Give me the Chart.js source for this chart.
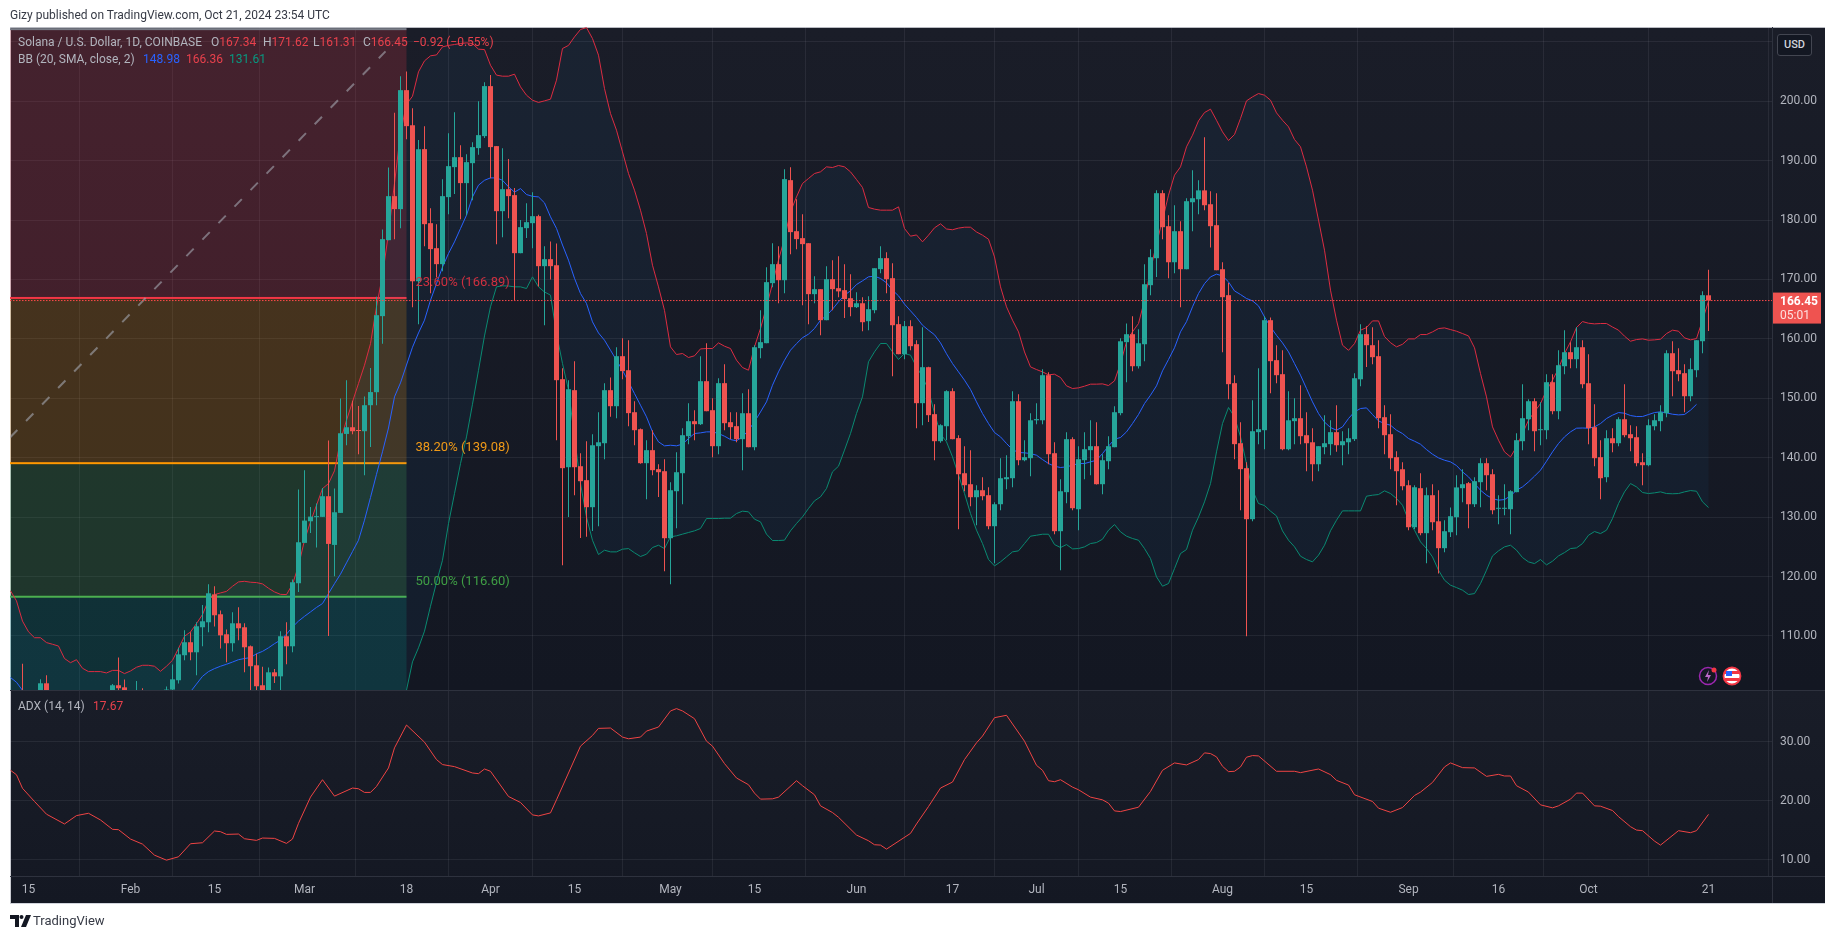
<!DOCTYPE html>
<html><head><meta charset="utf-8"><title>SOL/USD</title>
<script src="https://cdn.jsdelivr.net/npm/chart.js@4/dist/chart.umd.min.js"></script>
<style>
html,body{margin:0;padding:0;background:#fff;width:1835px;height:939px;overflow:hidden;font-family:Roboto,sans-serif}
#panel{position:absolute;left:10px;top:27px;width:1815px;height:877px;box-sizing:border-box;
 border-left:1px solid #c9cbd1;border-top:1px solid #b9bbc2;border-bottom:1px solid #d1d4dc;
 background:linear-gradient(#1a1d28 0,#131722 662px,#191d28 662px,#141823 100%)}
canvas{position:absolute;left:0;top:0}
.t{position:absolute;font-size:12px;line-height:14px;white-space:nowrap;color:#b2b5be}
.r{color:#e8414c}.b{color:#2962ff}.g{color:#089981}
#usd{position:absolute;left:1777px;top:34px;width:35px;height:22px;box-sizing:border-box;border:1px solid #434651;border-radius:3px;
 background:#131722;color:#d1d4dc;font-size:11px;font-weight:500;line-height:20px;text-align:center}
svg{position:absolute}
</style></head><body>
<div id="panel"></div>
<canvas id="c" width="1835" height="939"></canvas>
<div class="t" style="left:10px;top:8px;color:#363a45">Gizy published on TradingView.com, Oct 21, 2024 23:54 UTC</div>
<div class="t" style="left:18px;top:35px">Solana / U.S. Dollar, 1D, COINBASE</div>
<div class="t" style="left:211px;top:35px">O<span class="r">167.34</span></div>
<div class="t" style="left:263px;top:35px">H<span class="r">171.62</span></div>
<div class="t" style="left:313px;top:35px">L<span class="r">161.31</span></div>
<div class="t" style="left:363px;top:35px">C<span class="r">166.45</span></div>
<div class="t r" style="left:413px;top:35px">−0.92 (−0.55%)</div>
<div class="t" style="left:18px;top:52px">BB (20, SMA, close, 2)</div>
<div class="t b" style="left:143px;top:52px">148.98</div>
<div class="t r" style="left:186px;top:52px">166.36</div>
<div class="t g" style="left:229px;top:52px">131.61</div>
<div class="t" style="left:18px;top:699px">ADX (14, 14)</div>
<div class="t r" style="left:93px;top:699px">17.67</div>
<div id="usd">USD</div>
<svg style="left:1698px;top:666px" width="46" height="20" viewBox="0 0 46 20">
 <circle cx="10" cy="10" r="8.5" fill="#131722" stroke="#9c27b0" stroke-width="1.5"/>
 <path d="M11 4 7 11h3l-1 5 4-7h-3z" fill="#ba68c8"/><circle cx="16" cy="4" r="2.5" fill="#f23645"/>
 <circle cx="34" cy="10" r="8.5" fill="#fff" stroke="#f23645" stroke-width="1.8"/>
 <path d="M27 5h14v3H27zM27 12h14v3H27z" fill="#f23645"/><path d="M28 5h6v5h-6z" fill="#2962ff"/>
</svg>
<svg style="left:10px;top:914px" width="22" height="14" viewBox="0 0 22 14">
 <path d="M0 1h9v12H5V5H0z" fill="#131722"/><circle cx="11.5" cy="3" r="2" fill="#131722"/><path d="M16 1h5l-5 12h-5z" fill="#131722"/>
</svg>
<div class="t" style="left:33px;top:914px;font-size:13px;color:#363a45">TradingView</div>
<script>
// Day numbers count from 15 Jan 2024 = 0. Candles start at day -3, last one is 21 Oct 2024 = 280.
const firstDay = -3;
const tickDays = [0,17,31,46,63,77,91,107,121,138,154,168,182,199,213,230,245,260,280];
const tickLabels = ['15','Feb','15','Mar','18','Apr','15','May','15','Jun','17','Jul','15','Aug','15','Sep','16','Oct','21'];
const priceTicks = [110,120,130,140,150,160,170,180,190,200,210];
const adxTicks = [10,20,30];

const opens = [
99.5,97.5,99.5,96,97.5,99.5,102.03,98.5,97,96,
95,94.5,96,95.5,96.5,98,97,99.5,101.7,101.35,
99,99.5,100.5,99,99.8,100.2,100,100.97,102.54,106.75,
108.94,107.25,111.46,112.3,117,113.65,110.28,108.77,112.13,111.46,
108.26,105.06,101.7,100,103.88,103.2,109.95,108.26,118.87,125.66,
129.3,130,130.04,133.52,125.32,130.71,144,145.13,144.6,144.46,
148.84,151.03,163.83,176.62,184.03,181.84,201.87,195.98,169.72,191.94,
179.48,175.27,172.58,183.86,188.91,190.59,186.22,189.58,192.11,194.13,
202.55,192.45,181.5,185.2,184.2,174.43,178.64,179.48,180.66,172.24,
173.42,172.4,153.22,138.4,151.37,138.57,136.22,131.67,141.94,142.44,
151.37,148.67,157.09,154.73,147.66,144.8,139.08,141.27,138.07,137.73,
126.45,134.36,137.39,143.62,146.15,145.64,152.88,148,141.94,152.55,
145.98,145.31,143.12,147.49,141.77,158.44,159.28,169.38,172.58,169.88,
186.72,178.13,176.96,176.11,167.53,168.37,163.15,170.05,168.54,168.2,
166.85,165.34,166,162.98,164.83,171.74,173.59,170.22,162.48,157.43,
162.14,159.11,149.18,155.24,147.33,142.78,145.3,151.2,143.3,137.39,
135.54,133.35,134.53,133.69,128.47,132.17,136.38,136.55,149.51,139.58,
139.92,146.3,146.3,153.89,140.76,127.63,134.2,143.12,131.33,139.58,
141.27,141.94,135.54,139.41,141.77,147.5,159.45,160.79,155.4,159.1,
169.04,173.58,184.53,178.97,172.9,178.13,171.73,183,183.5,185,
182.67,179.14,171.73,167.36,152.55,142.44,138.24,129.65,144.3,144.63,
163.15,156.42,154.06,141.43,146.15,146.65,143.79,142.6,138.9,141.77,
142.28,144.3,142.1,142.6,143.12,153.2,160.79,158.94,157.09,146.82,
143.96,140.09,138.06,135.37,128.3,134.87,127.3,133.69,129.3,124.77,
127.46,129.98,134.87,135.71,132.17,135.88,139.08,137.22,131.4,131.4,
131.33,134.2,142.78,146.48,149.51,144.63,144.63,152.71,147.83,155.4,
157.76,156.58,158.6,152.54,145.14,140.09,136.72,143.28,142.44,146.48,
143.96,143.45,139.24,138.74,145.3,146.15,147.49,157.59,154.73,154.23,
150.35,154.73,159.61,167.34];
const highs = [
100.4,99.8,105.3,99,100,102.7,103.4,100,99,98,
97,97,98,98,99,100,99.8,101.9,106.35,102.65,
100.5,102.4,101.2,100.5,100.6,100.7,101.5,105.2,108,110.96,
110.6,112.3,115.2,118.7,118.36,114.3,111.1,113.99,114.83,112.13,
108.4,107,104.8,104.67,104.45,110.79,112.3,119.5,134.64,137.9,
131.7,132.28,134.9,142.9,134.8,149.96,153.05,149.57,148.7,150.3,
155.1,167.08,178.42,188.85,198.06,204.23,205,198.84,193.46,195.81,
182,179.31,186.89,194.63,198.17,192.61,191.1,193.12,200.02,203.22,
204.4,192.45,192.1,190.26,185.4,180,182.85,184.7,180.9,175.61,
176.4,176.06,155.07,153.05,156.25,140.76,142.78,143.96,147.66,152.55,
153.5,158.6,160.12,159.78,149.5,144.9,142.95,144.63,138.9,139.75,
135.88,140.93,144.97,149.18,148,157.09,159.28,150,153.39,155.74,
147.66,147.66,150.86,151.53,158.94,164.83,172.07,176.1,175.6,188.57,
188.9,183.52,181,176.11,170.56,168.37,172.24,173.25,173.9,172.58,
170.9,167.86,167.02,167.19,171.9,175.6,174.6,172.75,163.82,163,
163.15,159.78,161.97,155.3,149,145.64,151.37,151.7,143.8,141.94,
141.27,135.37,136.72,135.04,132.5,139.92,140.42,151.2,150.7,142.95,
147.5,149.18,154.9,154.4,142.6,136.38,144.3,143.45,141.94,144.3,
146.3,145.98,140.59,143.62,148.67,160.12,162.6,163.82,161.63,172.57,
175.1,185.03,185,180.8,182.5,179.8,183.68,188.4,186.7,193.95,
184.86,184.53,172.9,169.4,153.9,145.98,139.24,149.68,155.07,163.8,
163.6,158.94,158.1,151.2,150,152.2,147.66,144.97,141.94,147.16,
146.3,148.84,144.46,144.97,154.2,162.47,162.14,161.97,159.78,148.84,
147.32,141.1,139.24,136.2,135.37,137.39,135,135.54,134.53,129.48,
131.6,137.05,138.06,135.9,136.72,139.92,139.92,138.06,133.69,135.54,
134.53,144.13,152.37,149.85,150,149.34,154.06,154.06,158.1,161.47,
159.45,161.97,159.78,157.42,149,142.95,144.63,144.97,146.82,152.37,
145.47,145.3,140.76,146.48,147.32,148.84,158.1,159.6,158.43,155.74,
156.75,159.78,168.03,171.62];
const lows = [
96.5,95.5,94,94,96,97.5,97,96,95,94,
93,93.5,94.5,94,95,96.5,96,98.5,98.5,98,
97.5,98.5,98,97.5,98,98.5,99,100,102,105.9,
105.9,103.4,108.26,110.6,111.6,107.9,105.57,107.4,109.27,103.88,
100.5,100.5,98,99.5,102.09,100.5,105.25,107.25,117.4,125.66,
127.34,124.9,130.04,110,120.05,130.71,142.1,143.95,140.6,137.05,
141.8,148.84,159.2,176.62,176.79,178.64,193.6,165.34,162.48,175.61,
167.7,170.39,171.4,181,184.37,180.16,180.83,183.35,191,193.8,
187.06,175.95,177.1,180.3,166.5,174.43,177,175.27,168.8,162.3,
170,142.95,121.9,130,133.7,126.5,126.68,127.68,128.47,139.75,
146.88,146.65,153.2,145.3,142.1,139,133,137.06,133.4,120.9,
118.7,128.13,132.17,142.28,142.95,145.5,147.83,140.09,140.59,144.63,
143.12,142.61,137.9,141.77,141.27,156.75,159.28,168.7,166,167.7,
174.26,175.1,165.68,162.48,166,160.63,163.15,164.83,167,163.5,
163.8,165.2,161.3,161.47,164.33,171.06,167.7,153.72,157.43,156.58,
158.1,144.97,145.47,146,139.58,142.5,142.95,143.1,127.96,134.36,
131.84,128.64,132.85,127.96,122.24,131.16,134.7,135.04,138.74,139.41,
136.9,145.64,145.64,138.9,127.13,121.06,132.34,131.16,127.8,136.38,
137.06,135.5,133.86,138.07,141.77,147.16,152.7,154.56,155,156.25,
167.35,170.4,176.78,170.2,171.06,165.33,171.73,178.13,181,181.66,
175.4,171.56,157.76,149.85,139.75,131.16,109.95,129.3,142.28,141.43,
150.86,152.54,141.27,141.27,142.28,142.28,137.73,136.05,137.73,140.59,
140.42,141,138.74,140.6,142.83,152.04,155.29,155.74,144.97,140.6,
138.06,132,134.53,127.8,128,126.95,122.24,127.8,120.5,124.09,
126.67,126.95,132.5,128.13,131.72,131.67,134.53,130.49,128.8,130.32,
127.12,134.2,141.26,144.63,141.1,142.1,143.1,147.32,146.48,154.06,
155.07,155.07,151.7,142.27,138.57,133,135.88,140.93,141.94,143.45,
141.1,138.57,135.37,138.57,144.63,144.46,146.82,150.35,152.88,147.66,
149.51,153.55,157.59,161.31];
const closes = [
97.5,96.5,96,97.5,99.5,102.03,98.5,97,96,95,
94.5,96,95.5,96.5,98,97,99.5,101.7,101.2,99,
99.5,100.5,99,99.8,100.2,100,100.97,102.7,106.9,108.94,
107.25,111.63,112.47,117.18,113.48,110.1,108.77,112.13,111.29,108.09,
104.9,101.53,100,103.88,103.2,109.95,108.26,119.04,125.77,129.42,
130.09,130.1,133.52,125.49,130.82,144.12,145.13,144.46,144.5,148.84,
151.05,163.99,176.79,184.03,181.84,201.87,195.81,169.72,191.94,179.31,
175.11,172.58,184.03,189.08,190.59,186.22,189.75,192.28,194.3,202.55,
192.28,181.5,185.2,184.03,174.43,178.81,179.65,180.66,172.24,173.42,
172.24,153.05,138.24,151.53,138.4,136.05,131.67,142.1,142.6,151.37,
148.67,157.09,154.57,147.5,144.63,139.08,141.27,137.9,137.56,126.45,
134.53,137.56,143.79,146.15,145.64,152.88,147.83,141.94,152.55,145.81,
145.14,143.12,147.49,141.77,158.6,159.45,169.55,172.58,169.88,186.89,
177.97,176.79,175.95,167.53,168.37,163.15,170.05,168.37,168,166.7,
165.34,166,162.81,165,171.9,173.59,170.05,162.3,157.43,162.14,
158.77,149.18,155.24,147.16,142.78,145.47,151.2,143.12,137.22,135.37,
133.35,134.53,133.52,128.47,132.17,136.55,136.72,149.51,139.58,140.09,
146.3,146.5,153.89,140.59,127.63,134.36,143.12,131.5,139.75,141.43,
141.94,135.54,139.58,141.94,147.66,159.6,160.79,155.4,159.27,169.2,
173.75,184.53,178.8,172.9,178.13,171.73,183.18,183.68,185,182.5,
178.97,171.56,167.02,152.38,142.28,138.07,129.65,144.46,144.8,163.15,
156.25,153.89,141.43,146.3,146.65,143.62,142.44,138.9,141.94,142.44,
144.3,142.1,142.78,143.28,153.38,160.79,158.94,156.92,146.65,143.79,
139.92,137.73,135.2,128.3,135.03,127.3,133.69,129.14,124.77,127.63,
130.15,135,135.54,132.17,136.05,139.08,137.05,131.16,131.5,131.45,
134.36,142.95,146.65,149.51,144.46,144.8,152.71,147.83,155.57,157.76,
156.58,158.6,152.37,144.97,139.92,136.55,143.28,142.44,146.48,143.79,
143.28,139.08,138.74,145.47,146.31,147.66,157.59,154.56,154.06,150.35,
154.9,159.78,167.36,166.45];

// Bollinger upper band: one reading per day from firstDay
const bbUpper = [
117.6,115.9,112.5,110.7,109.7,109.7,108.88,108.6,108.3,106.2,
105.5,106,104.56,104,104,104,103.77,104.2,104.2,103.66,
104.1,104.73,105.06,105.06,104.9,104.05,104.9,105.9,107.9,109.95,
110.67,112.08,113.6,116,116.96,117.24,117.5,118.36,119.09,119.2,
119.04,118.98,118.76,118.03,117.41,117,116.96,118.7,121.8,126.1,
129.2,132,134.8,135.65,137.8,142.9,146.3,149.4,152.5,155.57,
159.2,165.4,170.7,177.74,186.2,194.6,199.5,200.85,204.95,206.8,
207.65,207.8,209.16,209.4,209.55,209.72,209.83,209.72,208.77,208.7,
206.07,204.4,204.22,204.22,204.56,202.43,201.02,200.18,199.8,200.07,
200.35,203.55,208.88,209.4,210.84,212.08,212.4,210.56,207.76,202.15,
197.94,195.13,191.48,187.84,185.03,181.66,177.74,172.4,168.76,164.8,
158.66,157.37,157.54,156.87,157.15,158.32,158.38,158.38,159.33,158.77,
158.38,156.42,155.18,154.73,158.66,161.75,165.4,169.32,173.25,176.9,
181.4,183.9,186.16,187,187.84,188.12,188.96,188.85,189.19,188.96,
188.12,186.83,185.49,182.12,181.84,181.67,181.67,181.67,182.23,178.58,
177.29,177.5,176.34,177.46,178.7,179.37,178.5,178.37,178.65,178.8,
178.8,178,177.46,176.78,173.8,168.76,165.4,163.15,161.18,157.8,
155.29,154.84,154.45,153.95,154.06,153.5,152.1,151.65,151.76,152.04,
152.38,152.38,152.43,152.15,152.94,155.86,159.5,161.2,162.59,166.5,
171.56,176.05,179.98,184.19,187.56,188.96,192.33,194.29,196.7,198.1,
198.67,196.8,194.85,193.39,194.4,197.1,200.07,200.74,201.3,201.02,
200.18,198.05,196.8,195.7,193.56,192.33,188.96,185.03,180,174.93,
168.2,163.15,158.94,158.08,159.2,161.46,161.9,163.03,163.03,160.4,
159.36,158.66,159.1,160,160,160.73,160.73,161.18,161.74,161.85,
161.57,161.29,160.9,160.5,158.5,154.17,150.24,145.19,142.95,140.98,
140.14,141.82,144.07,146.31,147.72,149.12,151.36,153.05,155.01,157.54,
159.5,161.91,162.92,162.64,162.53,162.59,162.59,162,161.47,160.46,
159.61,159.89,160,159.78,159.84,159.95,160.9,161.47,161.3,160.17,
159.84,160.06,163.15,166.36];
// Bollinger basis: one reading per day from firstDay (days 0-28 lie below the pane, estimated)
const bbBasis = [
103,102.2,100.85,99.8,99.2,98.8,98.5,98.2,98,97.8,
97.6,97.4,97.3,97.2,97.2,97.3,97.4,97.6,97.7,97.9,
98,98.2,98.3,98.5,98.6,98.8,99,99.3,99.7,100.1,
100.6,101.9,103.2,104,104.5,104.9,105.23,105.6,106,106.2,
106.35,107,107.4,108,108.7,109.3,110.3,111.5,112.5,113.3,
114.04,114.8,115.45,117.13,118.8,120.4,122.3,124.2,126.1,129.48,
133.3,137.2,141,145,150.24,152.6,155.6,158.6,161,163.15,
166.5,169.3,172.1,174.37,176.33,178.58,180.82,183.9,185.87,186.7,
187.1,187.1,186.7,185.6,184.7,185.3,184.3,184,183.9,182.9,
180.55,178.6,175.8,173.25,170.2,167.64,165.96,162.87,161,159.78,
158.1,156.4,154.73,152.77,150.8,148.84,146.88,144.35,142.67,142,
142.1,142,142.28,143.23,144.07,144.18,144.35,144.35,144.07,143.62,
143.06,142.84,143.5,144.63,146.04,147.7,149.4,152.2,154.45,156.4,
158.1,159.2,160.2,160.8,161.75,163.15,163.9,165,166.24,167.36,
168.09,169.15,169.77,170.45,170.56,170.17,169.44,168.2,167.25,165.85,
164.72,163.6,162.3,161.47,160.7,159.33,157.5,155.85,154.45,153.05,
151.48,149.4,147.44,145.75,144.24,143.51,142.39,141.38,140.87,140.82,
140.7,140.42,139.69,139.02,138.57,138.35,138.46,138.74,139.02,139.02,
139.3,139.58,140.7,141.94,143.12,143.4,144.35,145.75,147.27,149.12,
150.52,152.1,154.62,156.53,158.5,161.19,162.9,165.4,167.64,169.3,
170.44,170.9,170.6,169.6,168.08,167.47,166.8,166.4,165.56,163.7,
162.03,160.6,159.33,157.82,155.85,153.89,151.65,149.4,147.44,146,
145.08,144.63,145.19,146.6,147.72,148.28,148.39,147.27,146.2,145.75,
145.47,144.63,144.07,143.23,142.78,142.27,141.37,140.59,139.97,139.58,
139.3,138.68,137.62,136.77,135.65,134.53,133.69,133.13,132.85,132.96,
133.57,134.53,135.09,135.93,136.89,137.9,139.41,140.98,142.39,143.51,
144.35,144.97,145,144.97,145.19,145.75,146.6,147.16,147.6,147.49,
147.1,146.93,146.93,147.27,147.6,147.72,147.55,147.32,147.21,147.27,
148,148.98];
// Bollinger lower band: one reading per day from day 62 (left of that it is below the pane)
const bbLowerFirstDay = 62;
const bbLower = [
99,100.87,105.63,108,110.8,115,119,122.74,128.9,133.96,
139,143.5,149,154.7,160.5,165.4,168.76,168.93,168.9,168.76,
168.76,168.48,170.44,168.76,167.9,167.36,160.9,155.86,151.4,143.5,
135.66,130,126.1,123.7,124.43,124.15,124.15,124.6,124.7,124,
123.37,123.76,124.88,125.27,124.7,126.68,126.85,127.13,127.41,127.69,
128.08,129.76,129.76,129.76,129.82,129.82,130.6,131,130.89,129.65,
129.2,127.13,126.06,126.06,126.12,127.69,128.92,130.04,131.45,132.74,
133.41,134.81,137.62,138.57,141.27,144.07,147.44,150.25,156.14,157.82,
159.22,159.22,157.82,156.53,157.54,157.26,155.3,153.6,151.4,147.5,
144,142.67,140.14,137.1,133.97,130.6,127.8,125.55,122.86,121.79,
122.47,123.31,124.15,124.32,125.55,126.79,126.95,127.12,127.12,125.38,
124.88,125.38,124.65,124.71,124.99,125.55,125.72,126.28,127.8,128.75,
127.52,126.79,126.4,126.11,124.71,123.03,119.94,118.37,118.82,121.34,
123.87,124.54,127.8,130,132.57,135.65,140.98,145.75,148.45,146.88,
143.5,139,134.53,132.29,131.95,131,130.2,127.68,126.11,125,
123.42,122.86,122.47,123.59,125.27,127.7,129.48,131.05,131.05,131.05,
131.05,133.52,133.69,133.8,134.42,133.97,133.13,132,129.48,127.8,
125.83,124.71,123.3,121.06,119.38,118.54,118.14,117.7,116.97,117.13,
118.82,121.06,123.47,124.32,124.99,125.27,124.43,123.19,122.46,122.18,
122.86,121.96,122.58,123.47,124.03,124.71,124.82,125.55,126.95,127.57,
127.23,127.8,129.76,132.28,134.25,135.65,135.09,134.14,133.97,134.08,
134.25,133.97,133.93,133.97,134.25,134.47,134.36,132.57,131.61];

// ADX vertices
const adxDays = [-3,-2,-1,1,3,6,8,10,12,14,15,17,19,21,23,25,27,29,31,32,33,35,36,38,39,41,43,44,45,47,49,51,54,55,56,57,58,60,61,63,66,68,69,71,74,75,76,77,80,82,84,85,87,88,90,92,94,95,97,99,100,102,103,105,107,108,109,111,113,114,116,118,120,121,122,124,125,128,129,131,132,134,135,138,140,141,142,143,147,148,150,152,154,156,158,159,161,163,166,168,169,170,171,172,174,175,177,179,180,181,182,185,187,189,191,193,195,196,197,198,199,200,201,202,203,204,205,208,211,212,215,217,218,220,221,224,225,227,229,231,232,234,236,237,239,241,243,245,246,247,248,250,252,254,255,257,258,259,261,262,264,265,267,268,269,271,272,275,277,278,280];
const adxVals = [25.16,24.4,22.1,19.86,17.7,16.04,17.46,17.86,16.72,15.13,15.07,13.48,12.62,10.74,9.89,10.46,12.68,12.85,14.84,14.73,14.27,14.33,13.53,13.25,13.65,13.59,12.74,13.48,16.15,20.6,23.56,20.77,22.14,22.02,21.4,21.4,22.42,25.56,28.97,32.85,29.94,26.98,26.13,25.78,24.7,24.59,25.38,24.99,20.71,19.69,17.58,17.41,17.92,20.14,24.7,29.26,31.08,32.28,32.34,30.8,30.51,30.8,31.82,32.51,35.24,35.64,35.24,33.93,30.11,29.26,26.3,23.85,22.71,21.28,20.26,20.31,20.6,23.39,22.54,21,19.12,17.98,17.18,14.16,13.19,12.51,12.45,11.77,14.44,16.04,19,22.14,23.16,26.98,29.83,30.97,34.1,34.5,30.1,26,25.16,23.39,23.22,23.56,22.3,21.85,20.6,20.14,19.57,18.26,18.15,18.89,21.57,25.16,26.41,26.07,26.98,28.12,28,27.44,25.84,24.93,24.99,25.73,27.38,27.66,27.6,24.99,24.99,24.76,25.38,24.42,23.45,22.65,21,19.86,18.72,18.03,18.83,20.88,21.45,23.1,25.73,26.41,25.61,25.56,24.13,24.47,24.19,24.19,22.54,21.45,19.29,18.78,19.12,20.26,21.28,21.28,19.12,19.06,18.32,17.29,15.58,15,14.9,13.13,12.45,14.9,14.56,14.9,17.67];

// Fibonacci retracement
const fibLevels = [212.14,166.89,139.08,116.6];
const fibNames = ['','23.60% (166.89)','38.20% (139.08)','50.00% (116.60)'];
const fibLineColors = ['#787b86','#f23645','#ff9800','#4caf50'];
const fibTextColors = ['','#cf3040','#f09a18','#3f9f45'];
const fibFills = ['rgba(242,54,69,.2)','rgba(255,152,0,.2)','rgba(76,175,80,.2)','rgba(0,150,136,.2)'];
const fibEndDay = 63;
// Trend line of the retracement
const trendDays = [-3.08,59.5];
const trendVals = [143.4,208.4];
const lastPrice = 166.45;
const lastPriceText = ['166.45','05:01'];

const days = opens.map((_,i)=>firstDay+i);
const isUp = i => closes[i] >= opens[i];
const UP='#26a69a', DN='#ef5350';

const panes = {
 id:'panes',
 beforeDatasetsDraw(ch){
  const {ctx,scales:{x,y}}=ch;
  ctx.save();
  ctx.beginPath();ctx.rect(x.left,y.top,x.right-x.left,y.bottom-y.top);ctx.clip();
  const xe=x.getPixelForValue(fibEndDay);
  fibFills.forEach((col,i)=>{
   const top=y.getPixelForValue(fibLevels[i]);
   const bot=i<fibLevels.length-1?y.getPixelForValue(fibLevels[i+1]):y.bottom;
   ctx.fillStyle=col;ctx.fillRect(x.left,top,xe-x.left,bot-top);
  });
  fibLevels.forEach((v,i)=>{
   const py=y.getPixelForValue(v);
   ctx.fillStyle=fibLineColors[i];ctx.fillRect(x.left,py-1,xe-x.left,2);
  });
  ctx.beginPath();
  bbUpper.forEach((v,i)=>{const px=x.getPixelForValue(firstDay+i),py=y.getPixelForValue(v);i?ctx.lineTo(px,py):ctx.moveTo(px,py);});
  for(let i=bbLower.length-1;i>=0;i--)ctx.lineTo(x.getPixelForValue(bbLowerFirstDay+i),y.getPixelForValue(bbLower[i]));
  ctx.lineTo(x.getPixelForValue(firstDay),y.bottom);
  ctx.closePath();
  ctx.fillStyle='rgba(33,150,243,.05)';ctx.fill();
  ctx.restore();
 },
 afterDatasetsDraw(ch){
  const {ctx,scales:{x,y,y2}}=ch;
  ctx.save();
  ctx.font='13px Roboto';ctx.textAlign='left';ctx.textBaseline='middle';
  fibNames.forEach((t,i)=>{if(!t)return;ctx.fillStyle=fibTextColors[i];
   ctx.fillText(t,x.getPixelForValue(fibEndDay)+9,y.getPixelForValue(fibLevels[i])-15);});
  const c='#2e323e';ctx.fillStyle=c;
  ctx.fillRect(x.right,y.top,1,x.bottom-y.top);
  [y.bottom,y2.bottom].forEach(b=>ctx.fillRect(x.left,b,1825-x.left,1));
  const py=y.getPixelForValue(lastPrice);
  ctx.fillStyle=DN;ctx.fillRect(x.right+1,py-8,48,31);
  ctx.textAlign='left';
  ctx.fillStyle='#fff';ctx.font='bold 12px Roboto';ctx.fillText(lastPriceText[0],x.right+8,py+1);
  ctx.fillStyle='#fde0df';ctx.font='12px Roboto';ctx.fillText(lastPriceText[1],x.right+8,py+15);
  ctx.restore();
 }
};

const gridCol='rgba(240,243,250,.07)';
const line=(label,data,color,yAxisID,order,extra)=>Object.assign({type:'line',label,data,borderColor:color,borderWidth:1,pointRadius:0,tension:0,fill:false,yAxisID,xAxisID:'x',order},extra||{});

new Chart(document.getElementById('c'),{
 type:'bar',
 data:{datasets:[
  {type:'bar',label:'wicks',data:days.map((d,i)=>({x:d,y:[lows[i],highs[i]]})),
   backgroundColor:days.map((_,i)=>isUp(i)?UP:DN),barThickness:1,grouped:false,inflateAmount:0,borderWidth:0,yAxisID:'y',xAxisID:'x',order:5},
  {type:'bar',label:'bodies',data:days.map((d,i)=>({x:d,y:[opens[i],closes[i]]})),
   backgroundColor:days.map((_,i)=>isUp(i)?UP:DN),barThickness:5,grouped:false,inflateAmount:0,borderWidth:0,minBarLength:1,yAxisID:'y',xAxisID:'x',order:4},
  line('BB upper',bbUpper.map((v,i)=>({x:firstDay+i,y:v})),'#dc2c42','y',7),
  line('BB basis',bbBasis.map((v,i)=>({x:firstDay+i,y:v})),'#2962ff','y',6),
  line('BB lower',bbLower.map((v,i)=>({x:bbLowerFirstDay+i,y:v})),'#0a8a72','y',8),
  line('Trend',trendDays.map((d,i)=>({x:d,y:trendVals[i]})),'rgba(165,168,178,.6)','y',9,{borderWidth:2,borderDash:[10.5,12.5]}),
  line('Last',[{x:-3.083,y:lastPrice},{x:290.58,y:lastPrice}],'#ff4a4a','y',1,{borderDash:[1.5,1.5]}),
  line('ADX',adxDays.map((d,i)=>({x:d,y:adxVals[i]})),'#ef4444','y2',2)
 ]},
 plugins:[panes],
 options:{
  responsive:false,animation:false,events:[],
  layout:{padding:{left:10,top:27,right:10,bottom:36}},
  plugins:{legend:{display:false},tooltip:{enabled:false}},
  scales:{
   x:{type:'linear',min:-3.083,max:290.583,offset:false,
    grid:{color:gridCol,drawTicks:false},border:{display:false},
    afterBuildTicks:s=>{s.ticks=tickDays.map(v=>({value:v}));},
    afterFit:s=>{s.height=27;},
    ticks:{autoSkip:false,maxRotation:0,includeBounds:false,padding:7,color:'#b2b5be',font:{family:'Roboto',size:12},
     callback:v=>{const i=tickDays.indexOf(v);return i<0?'':tickLabels[i];}}},
   y:{type:'linear',position:'right',stack:'p',stackWeight:663,min:100.9,max:212.5,
    grid:{color:gridCol,drawTicks:false},border:{display:false},
    afterBuildTicks:s=>{s.ticks=priceTicks.map(v=>({value:v}));},
    afterFit:s=>{s.width=53;},
    ticks:{padding:8,color:'#b2b5be',font:{family:'Roboto',size:12},autoSkip:false,callback:v=>v===210?'':v.toFixed(2)}},
   y2:{type:'linear',position:'right',stack:'p',stackWeight:186,min:7.2,max:38.8,
    grid:{color:gridCol,drawTicks:false},border:{display:false},
    afterBuildTicks:s=>{s.ticks=adxTicks.map(v=>({value:v}));},
    afterFit:s=>{s.width=53;},
    ticks:{padding:8,color:'#b2b5be',font:{family:'Roboto',size:12},autoSkip:false,callback:v=>v.toFixed(2)}}
  }
 }
});
</script>
</body></html>
